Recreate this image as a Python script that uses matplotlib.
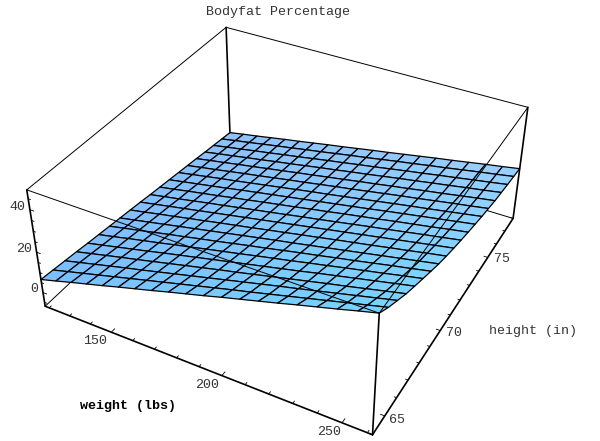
import numpy as np
import matplotlib
matplotlib.use("Agg")
import matplotlib.pyplot as plt

# Axis ranges of the plot box
WEIGHT_RANGE = (118.0, 262.0)
HEIGHT_RANGE = (64.0, 78.0)
FAT_RANGE = (-7.0, 49.0)

weight_major = [150, 200, 250]
weight_minor = [120, 130, 140, 160, 170, 180, 190, 210, 220, 230, 240, 260]
height_major = [65, 70, 75]
height_minor = [64, 66, 67, 68, 69, 71, 72, 73, 74, 76, 77, 78]
fat_major = [0, 20, 40]
fat_minor = [-5, 5, 10, 15, 25, 30, 35, 45]

# Bodyfat: rows go with height, columns with weight
bodyfat = np.array([
    [6.6, 8.8, 11.1, 13.3, 15.5, 17.8, 20.0, 22.2, 24.5, 26.7, 28.9, 31.2, 33.4, 35.6, 37.8, 40.1, 42.3, 44.5, 46.8, 49.0],
    [5.9, 8.0, 10.1, 12.2, 14.3, 16.4, 18.5, 20.6, 22.7, 24.8, 26.9, 29.0, 31.0, 33.1, 35.2, 37.3, 39.4, 41.5, 43.6, 45.7],
    [5.2, 7.2, 9.2, 11.2, 13.2, 15.1, 17.1, 19.1, 21.1, 23.1, 25.1, 27.1, 29.1, 31.1, 33.0, 35.0, 37.0, 39.0, 41.0, 43.0],
    [4.5, 6.4, 8.3, 10.2, 12.0, 13.9, 15.8, 17.7, 19.6, 21.5, 23.3, 25.2, 27.1, 29.0, 30.9, 32.8, 34.6, 36.5, 38.4, 40.3],
    [3.7, 5.5, 7.3, 9.1, 10.9, 12.8, 14.6, 16.4, 18.2, 20.0, 21.8, 23.6, 25.4, 27.2, 29.1, 30.9, 32.7, 34.5, 36.3, 38.1],
    [3.0, 4.7, 6.5, 8.2, 9.9, 11.7, 13.4, 15.2, 16.9, 18.6, 20.4, 22.1, 23.8, 25.6, 27.3, 29.1, 30.8, 32.5, 34.3, 36.0],
    [2.3, 4.0, 5.6, 7.3, 9.0, 10.6, 12.3, 13.9, 15.6, 17.3, 18.9, 20.6, 22.3, 23.9, 25.6, 27.2, 28.9, 30.6, 32.2, 33.9],
    [1.6, 3.2, 4.8, 6.4, 8.0, 9.6, 11.2, 12.8, 14.4, 16.0, 17.6, 19.1, 20.7, 22.3, 23.9, 25.5, 27.1, 28.7, 30.3, 31.9],
    [0.9, 2.4, 4.0, 5.5, 7.1, 8.6, 10.2, 11.7, 13.2, 14.8, 16.3, 17.9, 19.4, 21.0, 22.5, 24.0, 25.6, 27.1, 28.7, 30.2],
    [0.2, 1.7, 3.2, 4.7, 6.2, 7.7, 9.2, 10.7, 12.2, 13.7, 15.2, 16.7, 18.2, 19.7, 21.2, 22.7, 24.2, 25.7, 27.2, 28.7],
    [-0.6, 0.9, 2.3, 3.8, 5.3, 6.7, 8.2, 9.7, 11.1, 12.6, 14.1, 15.5, 17.0, 18.5, 20.0, 21.4, 22.9, 24.4, 25.8, 27.3],
    [-1.3, 0.1, 1.6, 3.0, 4.4, 5.9, 7.3, 8.8, 10.2, 11.6, 13.1, 14.5, 16.0, 17.4, 18.8, 20.3, 21.7, 23.1, 24.6, 26.0],
    [-2.0, -0.6, 0.8, 2.2, 3.6, 5.1, 6.5, 7.9, 9.3, 10.7, 12.1, 13.5, 14.9, 16.3, 17.8, 19.2, 20.6, 22.0, 23.4, 24.8],
    [-2.7, -1.3, 0.1, 1.5, 2.8, 4.2, 5.6, 7.0, 8.4, 9.8, 11.1, 12.5, 13.9, 15.3, 16.7, 18.1, 19.4, 20.8, 22.2, 23.6],
    [-3.4, -2.0, -0.7, 0.7, 2.1, 3.4, 4.8, 6.2, 7.5, 8.9, 10.3, 11.6, 13.0, 14.4, 15.8, 17.1, 18.5, 19.9, 21.2, 22.6],
    [-4.1, -2.7, -1.4, 0.0, 1.3, 2.7, 4.0, 5.4, 6.7, 8.1, 9.4, 10.8, 12.1, 13.5, 14.8, 16.2, 17.5, 18.9, 20.3, 21.6],
    [-4.9, -3.5, -2.2, -0.8, 0.5, 1.9, 3.2, 4.6, 6.0, 7.3, 8.7, 10.0, 11.4, 12.8, 14.1, 15.5, 16.8, 18.2, 19.5, 20.9],
    [-5.6, -4.2, -2.9, -1.5, -0.2, 1.2, 2.5, 3.9, 5.3, 6.6, 8.0, 9.3, 10.7, 12.1, 13.4, 14.8, 16.1, 17.5, 18.8, 20.2],
    [-6.3, -4.9, -3.6, -2.2, -0.8, 0.5, 1.9, 3.2, 4.6, 6.0, 7.3, 8.7, 10.1, 11.4, 12.8, 14.1, 15.5, 16.9, 18.2, 19.6],
    [-7.0, -5.6, -4.3, -2.9, -1.5, -0.2, 1.2, 2.6, 3.9, 5.3, 6.7, 8.0, 9.4, 10.8, 12.2, 13.5, 14.9, 16.3, 17.6, 19.0],
])

# Camera: where the eight corners of the box sit on the canvas (unit cube -> pixels)
camera_anchors = [
    ((0, 0, 0), (45.0, 307.0)), ((1, 0, 0), (372.7, 434.0)),
    ((1, 1, 0), (513.0, 219.0)), ((0, 1, 0), (230.0, 132.0)),
    ((0, 0, 1), (27.0, 189.0)), ((1, 0, 1), (379.0, 314.0)),
    ((1, 1, 1), (528.0, 106.7)), ((0, 1, 1), (226.0, 28.0)),
]


def camera_matrix():
    rows, rhs = [], []
    for (x, y, z), (u, v) in camera_anchors:
        # canvas pixels expressed in the -1..1 view box
        u, v = (u - 300.0) / 300.0, (v - 220.5) / 220.5
        rows.append([x, y, z, 1, 0, 0, 0, 0, -u * x, -u * y, -u * z])
        rhs.append(u)
        rows.append([0, 0, 0, 0, x, y, z, 1, -v * x, -v * y, -v * z])
        rhs.append(v)
    p = np.linalg.lstsq(np.array(rows, float), np.array(rhs, float), rcond=None)[0]
    p = np.append(p, 1.0).reshape(3, 4)
    # depth row stays negative everywhere so mplot3d keeps every point
    depth = -0.5 * p[2] + 0.1 * np.array([0.0, 0.3, -0.15, 0.03])
    unit = np.array([p[0], p[1], depth, p[2]])
    x0, x1 = WEIGHT_RANGE
    y0, y1 = HEIGHT_RANGE
    z0, z1 = FAT_RANGE
    to_unit = np.array([
        [1 / (x1 - x0), 0, 0, -x0 / (x1 - x0)],
        [0, 1 / (y1 - y0), 0, -y0 / (y1 - y0)],
        [0, 0, 1 / (z1 - z0), -z0 / (z1 - z0)],
        [0, 0, 0, 1],
    ])
    return unit @ to_unit


plt.rcParams["font.family"] = ["Liberation Mono", "DejaVu Sans Mono"]
fig = plt.figure(figsize=(6.0, 4.41), dpi=100, facecolor="white")
ax = fig.add_axes([0, 0, 1, 1], projection="3d")
ax.set_axis_off()
ax.computed_zorder = False
ax.apply_aspect = lambda position=None: None
proj = camera_matrix()
ax.get_proj = lambda: proj
ax.viewLim.intervalx = (-1, 1)
ax.viewLim.intervaly = (1, -1)
ax.patch.set_visible(False)

ny, nx = bodyfat.shape
weights = np.linspace(*WEIGHT_RANGE, nx)
heights = np.linspace(*HEIGHT_RANGE, ny)
W, H = np.meshgrid(weights, heights)

# Soft lighting across the sheet
tx, ty = np.meshgrid(np.linspace(0, 1, nx), np.linspace(0, 1, ny))
c_fl, c_fr = np.array([124, 190, 255.0]), np.array([118, 212, 255.0])
c_bl, c_br = np.array([142, 194, 252.0]), np.array([154, 208, 255.0])
rgb = ((1 - tx)[..., None] * ((1 - ty)[..., None] * c_fl + ty[..., None] * c_bl)
       + tx[..., None] * ((1 - ty)[..., None] * c_fr + ty[..., None] * c_br)) / 255
face = np.dstack([np.clip(rgb, 0, 1), np.ones_like(tx)])

x0, x1 = WEIGHT_RANGE
y0, y1 = HEIGHT_RANGE
z0, z1 = FAT_RANGE


def seg(a, b, lw, zo, color="black"):
    ax.plot([a[0], b[0]], [a[1], b[1]], [a[2], b[2]], color=color, lw=lw,
            zorder=zo, solid_capstyle="round")


# Box edges hidden by the sheet
seg((x0, y0, z0), (x0, y1, z0), 0.7, 1)
seg((x0, y1, z0), (x1, y1, z0), 0.7, 1)

surf = ax.plot_surface(W, H, bodyfat, rstride=1, cstride=1, facecolors=face,
                       shade=False, zorder=2)
surf.set_edgecolor("black")
surf.set_linewidth(0.9)

# Thin top edges, in front of the sheet
seg((x0, y0, z1), (x1, y0, z1), 0.7, 3)
seg((x1, y0, z1), (x1, y1, z1), 0.7, 3)
seg((x0, y0, z1), (x0, y1, z1), 0.7, 3)
seg((x0, y1, z1), (x1, y1, z1), 0.7, 3)

# Heavier verticals and the two base axes
seg((x0, y0, z0), (x0, y0, z1), 1.2, 3)
seg((x1, y0, z0), (x1, y0, z1), 1.2, 3)
seg((x1, y1, z0), (x1, y1, z1), 1.2, 3)
seg((x0, y1, z0), (x0, y1, z1), 1.2, 3)
seg((x0, y0, z0), (x1, y0, z0), 1.2, 3)
seg((x1, y0, z0), (x1, y1, z0), 1.2, 3)

# Ticks
for w in weight_major:
    seg((w, y0, z0), (w, y0 + 0.22, z0), 0.6, 3)
for w in weight_minor:
    seg((w, y0, z0), (w, y0 + 0.13, z0), 0.6, 3)
for h in height_major:
    seg((x1, h, z0), (x1 - 1.7, h, z0), 0.6, 3)
for h in height_minor:
    seg((x1, h, z0), (x1 - 1.0, h, z0), 0.6, 3)
for z in fat_major:
    seg((x0, y0, z), (x0 + 1.8, y0, z), 0.6, 3)
for z in fat_minor:
    seg((x0, y0, z), (x0 + 1.1, y0, z), 0.6, 3)


def label(s, px, py, color="#333333", weight="normal"):
    fig.text(px / 600, 1 - py / 441, s, ha="center", va="center",
             fontsize=9.6, color=color, fontweight=weight)


label("Bodyfat Percentage", 277.7, 12.3)
label("weight (lbs)", 127.7, 405.7, color="black", weight="bold")
label("height (in)", 533, 331)
for s, px, py in [("150", 95, 341), ("200", 207, 385), ("250", 329, 432),
                  ("65", 397, 420), ("70", 454, 333), ("75", 502, 259),
                  ("40", 17.5, 207), ("20", 24, 249), ("0", 34, 289)]:
    label(s, px, py)

fig.savefig("out.png", dpi=100, facecolor="white")
